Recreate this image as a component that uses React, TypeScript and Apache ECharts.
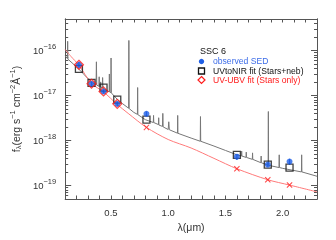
import React, { useEffect, useRef } from "react";
import * as echarts from "echarts";

// observed SED (HST bands), erg s^-1 cm^-2 A^-1
const obsLambda = [0.22, 0.33, 0.435, 0.555, 0.81, 1.6, 1.87, 2.06];
const obsFlux = [4.8e-17, 1.82e-17, 1.23e-17, 6.5e-18, 3.9e-18, 4.35e-19, 2.9e-19, 3.4e-19];
const obsLow = [4.1e-17, 1.65e-17, 1.1e-17, 5.8e-18, 3.5e-18, 3.7e-19, 2.6e-19, 2.9e-19];
const obsHigh = [5.6e-17, 2.0e-17, 1.36e-17, 7.2e-18, 4.4e-18, 5.0e-19, 3.2e-19, 3.9e-19];

// UVtoNIR fit (Stars+neb) synthetic photometry
const nebFitFlux = [3.9e-17, 1.9e-17, 1.5e-17, 8.05e-18, 2.9e-18, 4.8e-19, 2.9e-19, 2.5e-19];

// UV-UBV fit (Stars only): fitted bands and predicted bands
const starFitLambda = [0.22, 0.33, 0.435, 0.555];
const starFitFlux = [4.8e-17, 1.82e-17, 1.23e-17, 6.5e-18];
const starPredLambda = [0.81, 1.6, 1.87, 2.06];
const starPredFlux = [1.95e-18, 2.35e-19, 1.34e-19, 1.02e-19];

// Stars-only model spectrum (red curve)
const starModelLambda = [0.1, 0.15, 0.22, 0.33, 0.435, 0.555, 0.65, 0.81, 1.0, 1.2, 1.4, 1.6, 1.87, 2.06, 2.3];
const starModelFlux = [1.05e-16, 7.4e-17, 4.7e-17, 1.85e-17, 1.2e-17, 6.3e-18, 4.0e-18, 1.95e-18, 1.05e-18, 6.8e-19, 4.0e-19, 2.35e-19, 1.34e-19, 1.02e-19, 7.2e-20];

// Stars+nebular model spectrum (grey curve with emission lines)
const specLambda = [
  0.1, 0.119, 0.1216, 0.124, 0.16, 0.208, 0.25, 0.3, 0.34, 0.37, 0.3727, 0.376,
  0.395, 0.397, 0.399, 0.408, 0.41, 0.412, 0.424, 0.427, 0.43, 0.484, 0.486, 0.488,
  0.499, 0.5007, 0.503, 0.555, 0.6, 0.654, 0.6563, 0.659, 0.7, 0.731, 0.733, 0.735,
  0.8, 0.87, 0.872, 0.874, 0.915, 0.917, 0.919, 0.95, 0.953, 0.956, 1.0, 1.005, 1.01,
  1.081, 1.083, 1.085, 1.2, 1.28, 1.282, 1.284, 1.4, 1.5, 1.6, 1.64, 1.642, 1.644,
  1.68, 1.682, 1.684, 1.735, 1.737, 1.739, 1.81, 1.812, 1.814, 1.873, 1.875, 1.877,
  1.968, 1.97, 1.972, 2.0, 2.164, 2.166, 2.168, 2.3,
];
const specFlux = [
  7.6e-17, 6.6e-17, 1.6e-16, 6.4e-17, 5.3e-17, 4.1e-17, 3.2e-17, 2.35e-17, 1.9e-17, 1.72e-17, 5.6e-17, 1.7e-17,
  1.6e-17, 2.6e-17, 1.58e-17, 1.55e-17, 2.0e-17, 1.53e-17, 1.47e-17, 2.5e-17, 1.46e-17, 1.2e-17, 3.0e-17, 1.2e-17,
  1.15e-17, 6.8e-17, 1.14e-17, 8.2e-18, 6.6e-18, 5.2e-18, 1.67e-16, 5.1e-18, 4.2e-18, 3.8e-18, 1.5e-17, 3.75e-18,
  2.9e-18, 2.5e-18, 3.6e-18, 2.5e-18, 2.25e-18, 3.2e-18, 2.2e-18, 2.05e-18, 4.0e-18, 2.0e-18, 1.75e-18, 2.6e-18, 1.73e-18,
  1.45e-18, 3.6e-18, 1.44e-18, 1.13e-18, 9.6e-19, 3.4e-18, 9.6e-19, 7.5e-19, 6.0e-19, 4.8e-19, 4.5e-19, 5.8e-19, 4.5e-19,
  4.2e-19, 5.5e-19, 4.2e-19, 3.8e-19, 5.3e-19, 3.8e-19, 3.2e-19, 4.5e-19, 3.2e-19, 2.8e-19, 4.4e-18, 2.8e-19,
  2.5e-19, 4.8e-19, 2.5e-19, 2.4e-19, 2.0e-19, 4.8e-19, 2.0e-19, 1.6e-19,
];

// axes
const xMin = 0.1;
const xMax = 2.3;
const yMin = 5e-20;
const yMax = 5e-16;
const xLabelValues = [0.5, 1.0, 1.5, 2.0];
const xTickValues = [0.2, 0.3, 0.4, 0.5, 0.6, 0.7, 0.8, 0.9, 1.0, 1.1, 1.2, 1.3, 1.4, 1.5, 1.6, 1.7, 1.8, 1.9, 2.0, 2.1, 2.2];
const yMajorValues = [1e-19, 1e-18, 1e-17, 1e-16];
const yMinorValues = [
  6e-20, 7e-20, 8e-20, 9e-20,
  2e-19, 3e-19, 4e-19, 5e-19, 6e-19, 7e-19, 8e-19, 9e-19,
  2e-18, 3e-18, 4e-18, 5e-18, 6e-18, 7e-18, 8e-18, 9e-18,
  2e-17, 3e-17, 4e-17, 5e-17, 6e-17, 7e-17, 8e-17, 9e-17,
  2e-16, 3e-16, 4e-16,
];

const legendTitle = "SSC 6";
const legendLabels = ["observed SED", "UVtoNIR fit (Stars+neb)", "UV-UBV fit (Stars only)"];

const BLUE = "#1f5fe6";
const RED = "#ff1a1a";
const FONT = "Liberation Sans";
const CROSS = "path://M0,1.2L1.2,0L5,3.8L8.8,0L10,1.2L6.2,5L10,8.8L8.8,10L5,6.2L1.2,10L0,8.8L3.8,5Z";

const zip = (a: number[], b: number[]) => a.map((v, i) => [v, b[i]]);

export default function App() {
  const ref = useRef<HTMLDivElement>(null);
  useEffect(() => {
    if (!ref.current) return;
    const chart = echarts.init(ref.current, null, { renderer: "svg" });
    const axisLine = { show: true, lineStyle: { color: "#555", width: 1 } };
    const yBase = { type: "log", logBase: 10, min: yMin, max: yMax, splitLine: { show: false }, axisLine };
    const xBase = { type: "value", min: xMin, max: xMax, splitLine: { show: false }, axisLine };
    const supLabel = (v: number) => {
      const e = Math.round(Math.log10(v));
      return `{b|10}{s|\u2212${-e}}`;
    };
    chart.setOption({
      animation: false,
      grid: { left: 63, right: 19, top: 19, bottom: 41, containLabel: false },
      xAxis: [
        {
          ...xBase,
          position: "bottom",
          name: "\u03bb(\u03bcm)",
          nameLocation: "middle",
          nameGap: 21,
          nameTextStyle: { fontFamily: FONT, fontSize: 10.5, color: "#333" },
          axisTick: { show: true, inside: true, length: 3.5, customValues: xTickValues, lineStyle: { color: "#555" } },
          axisLabel: { show: true, customValues: xLabelValues, fontFamily: FONT, fontSize: 9.5, color: "#333", margin: 8, formatter: (v: number) => v.toFixed(1) },
        },
        {
          ...xBase,
          position: "top",
          axisTick: { show: true, inside: true, length: 3.5, customValues: xTickValues, lineStyle: { color: "#555" } },
          axisLabel: { show: false },
        },
      ],
      yAxis: [
        {
          ...yBase,
          position: "left",
          name: "{n|f}{sub|\u03bb}{n|(erg s}{sup|\u22121}{n| cm}{sup|\u22122}{n|\u00c5}{sup|\u22121}{n|)}",
          nameLocation: "middle",
          nameRotate: 90,
          nameGap: 40,
          nameTextStyle: {
            rich: {
              n: { fontFamily: FONT, fontSize: 10.5, color: "#333" },
              sub: { fontFamily: FONT, fontSize: 7.5, color: "#333", padding: [5, 0, 0, 0] },
              sup: { fontFamily: FONT, fontSize: 7.5, color: "#333", padding: [0, 0, 7, 0] },
            },
          },
          axisTick: { show: true, inside: true, length: 6, customValues: yMajorValues, lineStyle: { color: "#555" } },
          axisLabel: {
            show: true,
            customValues: yMajorValues,
            margin: 9,
            formatter: supLabel,
            rich: {
              b: { fontFamily: FONT, fontSize: 9.5, color: "#333" },
              s: { fontFamily: FONT, fontSize: 7.5, color: "#333", padding: [0, 0, 7, 0] },
            },
          },
        },
        {
          ...yBase,
          position: "left",
          axisTick: { show: true, inside: true, length: 3, customValues: yMinorValues, lineStyle: { color: "#555" } },
          axisLabel: { show: false },
        },
        {
          ...yBase,
          position: "right",
          axisTick: { show: true, inside: true, length: 6, customValues: yMajorValues, lineStyle: { color: "#555" } },
          axisLabel: { show: false },
        },
        {
          ...yBase,
          position: "right",
          axisTick: { show: true, inside: true, length: 3, customValues: yMinorValues, lineStyle: { color: "#555" } },
          axisLabel: { show: false },
        },
      ],
      series: [
        {
          type: "line",
          data: zip(specLambda, specFlux),
          showSymbol: false,
          symbol: "none",
          lineStyle: { color: "#777", width: 1 },
          z: 2,
        },
        {
          type: "line",
          data: zip(starModelLambda, starModelFlux),
          showSymbol: false,
          symbol: "none",
          smooth: 0.3,
          lineStyle: { color: "#ff7a7a", width: 1 },
          z: 2,
        },
        {
          type: "custom",
          data: obsLambda.map((l, i) => [l, obsLow[i], obsHigh[i]]),
          renderItem: (params: any, api: any) => {
            const lo = api.coord([api.value(0), api.value(1)]);
            const hi = api.coord([api.value(0), api.value(2)]);
            return {
              type: "line",
              shape: { x1: lo[0], y1: lo[1], x2: hi[0], y2: hi[1] },
              style: { stroke: BLUE, lineWidth: 1.2 },
            };
          },
          z: 3,
        },
        {
          type: "scatter",
          data: zip(obsLambda, nebFitFlux),
          symbol: "rect",
          symbolSize: 7,
          itemStyle: { color: "rgba(0,0,0,0)", borderColor: "#111", borderWidth: 1.3 },
          z: 4,
        },
        {
          type: "scatter",
          data: zip(obsLambda, obsFlux),
          symbol: "circle",
          symbolSize: 6,
          itemStyle: { color: BLUE },
          z: 5,
        },
        {
          type: "scatter",
          data: zip(starFitLambda, starFitFlux),
          symbol: "diamond",
          symbolSize: 9,
          itemStyle: { color: "rgba(0,0,0,0)", borderColor: RED, borderWidth: 1.2 },
          z: 6,
        },
        {
          type: "scatter",
          data: zip(starPredLambda, starPredFlux),
          symbol: CROSS,
          symbolSize: 6,
          itemStyle: { color: RED },
          z: 6,
        },
      ],
      graphic: [
        { type: "text", left: 200, top: 46.5, style: { text: legendTitle, font: `9px ${FONT}`, fill: "#111" } },
        { type: "circle", shape: { cx: 201.5, cy: 61.5, r: 2.7 }, style: { fill: BLUE } },
        { type: "text", left: 213, top: 56.5, style: { text: legendLabels[0], font: `8.6px ${FONT}`, fill: "#3c6ce8" } },
        { type: "rect", shape: { x: 198.5, y: 68, width: 6, height: 6 }, style: { fill: "none", stroke: "#111", lineWidth: 1.3 } },
        { type: "text", left: 213, top: 66, style: { text: legendLabels[1], font: `8.6px ${FONT}`, fill: "#111" } },
        { type: "polygon", shape: { points: [[201.5, 76.5], [205, 80], [201.5, 83.5], [198, 80]] }, style: { fill: "none", stroke: RED, lineWidth: 1.2 } },
        { type: "text", left: 213, top: 75.5, style: { text: legendLabels[2], font: `8.6px ${FONT}`, fill: RED } },
      ],
    });
    return () => chart.dispose();
  }, []);
  return <div ref={ref} style={{ position: "fixed", left: 0, top: 0, width: 336, height: 240 }} />;
}
